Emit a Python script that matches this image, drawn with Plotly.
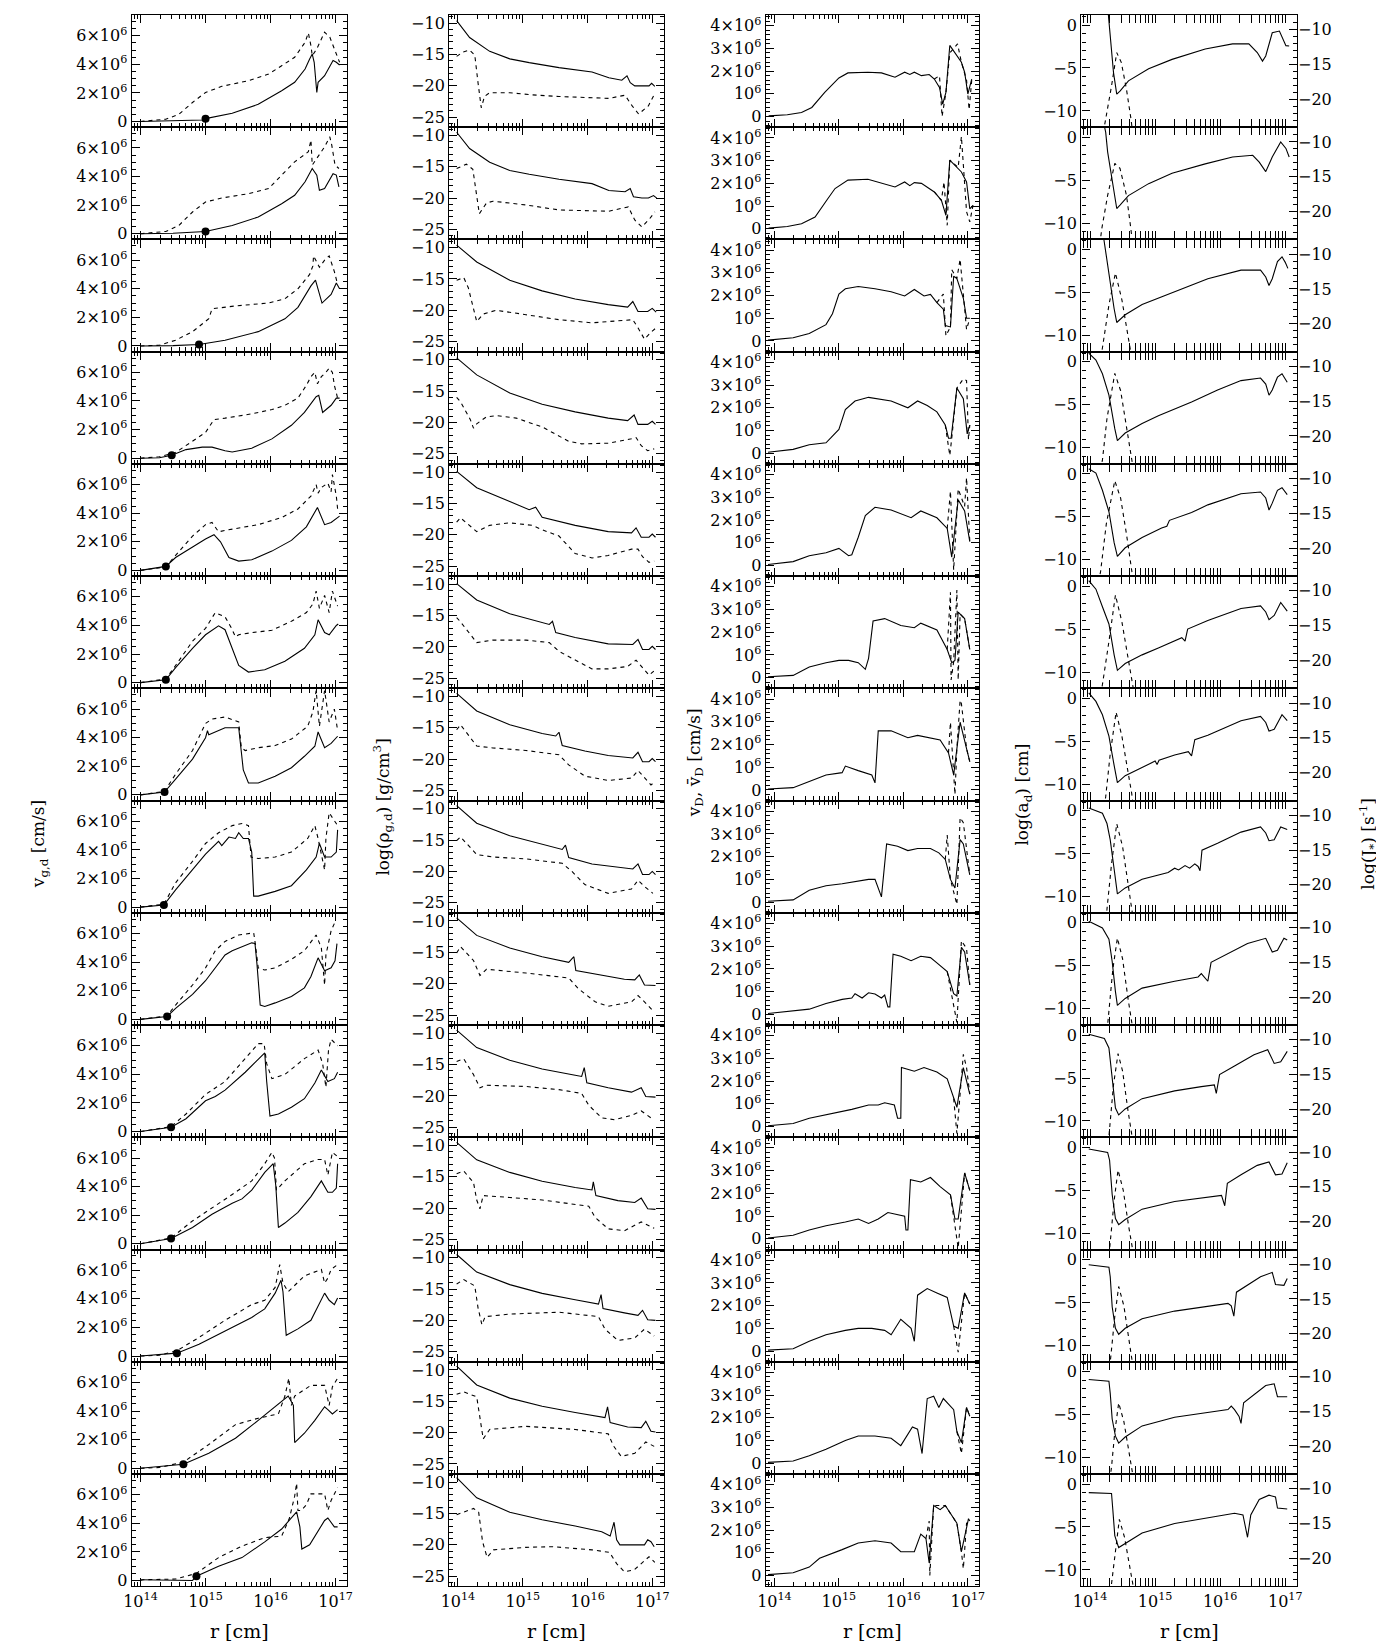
import plotly.graph_objects as go

# Each panel row (top to bottom) holds (log10 r [cm], value) pairs.
# Column 1: gas (solid) and dust (dashed) velocity, in units of 1e6 cm/s
V_GAS = [
    [(14.0,0.0),(14.5,0.03),(14.95,0.1),(15.0,0.2),(15.41,0.58),(15.81,1.2),(16.17,2.15),(16.37,2.74),(16.53,3.67),(16.60,4.37),(16.64,4.72),(16.67,4.14),(16.71,2.03),(16.73,2.74),(16.83,3.2),(16.96,4.26),(17.01,4.14),(17.06,3.95)],
    [(14.0,0.0),(14.5,0.03),(15.0,0.16),(15.41,0.58),(15.81,1.17),(16.17,2.1),(16.37,2.69),(16.53,3.63),(16.64,4.56),(16.71,4.1),(16.75,3.04),(16.83,3.16),(16.96,4.2),(17.01,4.1),(17.05,3.27)],
    [(14.0,0.0),(14.5,0.02),(14.90,0.1),(15.30,0.4),(15.81,1.0),(16.22,1.9),(16.42,2.7),(16.62,4.2),(16.69,4.6),(16.79,3.0),(16.93,3.6),(17.01,4.4),(17.06,4.0)],
    [(14.0,0.0),(14.29,0.03),(14.48,0.2),(14.70,0.6),(14.95,0.77),(15.10,0.77),(15.30,0.52),(15.41,0.43),(15.71,0.7),(16.02,1.35),(16.32,2.3),(16.52,3.2),(16.70,4.3),(16.74,4.4),(16.80,3.2),(16.93,3.7),(17.01,4.2),(17.06,4.2)],
    [(14.0,0.0),(14.39,0.28),(14.54,0.9),(14.80,1.66),(15.0,2.2),(15.13,2.5),(15.23,2.0),(15.36,0.9),(15.51,0.65),(15.71,0.74),(16.02,1.35),(16.32,2.1),(16.55,3.05),(16.72,4.4),(16.83,3.2),(16.93,3.35),(17.03,3.66),(17.06,3.8)],
    [(14.0,0.0),(14.39,0.2),(14.54,1.05),(14.80,2.4),(15.0,3.35),(15.20,3.97),(15.30,3.7),(15.41,2.4),(15.51,1.2),(15.66,0.74),(15.91,0.9),(16.22,1.5),(16.52,2.4),(16.68,3.35),(16.73,4.4),(16.83,3.5),(16.90,3.35),(17.01,4.0),(17.04,4.1)],
    [(14.0,0.0),(14.37,0.2),(14.54,1.1),(14.80,2.5),(15.0,4.0),(15.03,4.5),(15.05,4.2),(15.20,4.5),(15.30,4.7),(15.51,4.7),(15.53,3.9),(15.58,1.75),(15.66,0.83),(15.81,0.83),(16.07,1.3),(16.32,1.9),(16.52,2.7),(16.68,3.4),(16.73,4.4),(16.83,3.3),(16.93,3.6),(17.03,4.1)],
    [(14.0,0.0),(14.36,0.15),(14.54,1.2),(14.80,2.6),(15.0,3.7),(15.20,4.6),(15.25,4.3),(15.36,4.9),(15.46,4.8),(15.51,5.2),(15.58,4.8),(15.66,4.8),(15.71,3.85),(15.74,0.77),(15.81,0.77),(16.07,1.1),(16.32,1.5),(16.55,2.6),(16.70,3.5),(16.75,4.45),(16.83,3.5),(16.93,3.5),(17.01,3.85),(17.03,5.4)],
    [(14.0,0.0),(14.41,0.2),(14.54,0.77),(14.80,1.75),(15.0,2.7),(15.15,3.6),(15.30,4.5),(15.41,4.8),(15.56,5.1),(15.71,5.35),(15.76,5.3),(15.79,3.9),(15.84,1.0),(15.91,0.9),(16.07,1.15),(16.32,1.6),(16.52,2.2),(16.62,3.0),(16.73,4.3),(16.83,3.4),(16.93,3.6),(16.99,4.1),(17.02,5.3)],
    [(14.0,0.0),(14.47,0.3),(14.70,0.9),(15.0,2.15),(15.15,2.45),(15.30,2.9),(15.61,4.15),(15.81,5.1),(15.91,5.5),(15.94,3.5),(15.99,1.08),(16.12,1.23),(16.32,1.7),(16.52,2.3),(16.68,3.4),(16.78,4.3),(16.88,3.5),(16.98,3.7),(17.03,4.15)],
    [(14.0,0.0),(14.47,0.37),(14.80,1.14),(15.10,2.06),(15.41,2.83),(15.56,3.14),(15.71,3.75),(15.91,5.0),(16.04,5.6),(16.08,4.06),(16.12,1.14),(16.22,1.45),(16.42,2.2),(16.62,3.3),(16.78,4.4),(16.88,3.6),(16.95,3.6),(17.01,3.9),(17.03,5.6)],
    [(14.0,0.0),(14.56,0.2),(14.90,0.83),(15.30,1.75),(15.71,2.7),(15.91,3.3),(16.07,4.4),(16.16,5.3),(16.19,4.5),(16.24,1.45),(16.42,1.9),(16.62,2.5),(16.83,4.4),(16.90,3.9),(16.98,3.6),(17.03,4.06)],
    [(14.0,0.0),(14.66,0.28),(15.05,1.05),(15.46,2.1),(15.81,3.35),(16.07,4.3),(16.27,5.05),(16.29,4.9),(16.35,4.4),(16.37,1.8),(16.52,2.45),(16.68,3.35),(16.83,4.3),(16.88,4.1),(16.95,3.8),(17.03,4.1)],
    [(14.0,0.05),(14.54,0.05),(14.80,0.0),(14.86,0.3),(15.20,1.0),(15.56,1.6),(15.91,2.7),(16.17,3.6),(16.32,4.4),(16.40,4.8),(16.45,3.75),(16.48,2.2),(16.60,2.5),(16.68,3.1),(16.83,4.2),(16.88,4.37),(16.98,3.75),(17.03,3.75)],
]
V_DUST = [
    [(14.0,0.0),(14.39,0.16),(14.59,0.5),(14.80,1.33),(15.0,2.03),(15.25,2.46),(15.66,2.85),(15.97,3.32),(16.17,3.9),(16.37,4.49),(16.53,5.54),(16.58,6.2),(16.62,5.3),(16.64,4.6),(16.71,5.08),(16.83,6.25),(16.91,5.9),(16.96,5.3),(17.01,4.6),(17.06,4.14)],
    [(14.0,0.0),(14.39,0.16),(14.59,0.58),(14.80,1.52),(15.0,2.22),(15.25,2.5),(15.66,2.8),(15.97,3.16),(16.17,4.1),(16.37,5.03),(16.58,5.73),(16.62,6.55),(16.64,4.8),(16.71,5.26),(16.83,6.08),(16.91,6.78),(16.94,6.2),(16.99,4.8),(17.05,4.56)],
    [(14.0,0.0),(14.29,0.05),(14.54,0.4),(14.80,1.0),(15.05,1.9),(15.10,2.6),(15.46,2.8),(15.96,3.0),(16.22,3.3),(16.42,4.0),(16.60,5.0),(16.65,5.6),(16.66,6.3),(16.75,5.5),(16.83,6.0),(16.90,6.3),(16.98,5.2),(17.03,4.3)],
    [(14.0,0.0),(14.29,0.1),(14.54,0.4),(14.80,1.2),(15.0,1.8),(15.13,2.7),(15.30,2.8),(15.71,3.1),(16.02,3.4),(16.22,3.7),(16.42,4.2),(16.55,5.1),(16.62,5.7),(16.68,6.0),(16.72,5.2),(16.78,5.7),(16.85,6.0),(16.90,6.3),(16.95,6.0),(16.98,5.1),(17.03,4.2)],
    [(14.0,0.0),(14.39,0.25),(14.54,1.05),(14.80,2.4),(15.0,3.2),(15.10,3.35),(15.20,2.7),(15.30,2.8),(15.81,3.2),(16.17,3.7),(16.42,4.3),(16.62,5.2),(16.70,6.0),(16.73,5.4),(16.78,5.8),(16.88,6.1),(16.93,5.5),(16.95,6.7),(17.01,5.2),(17.03,4.3)],
    [(14.0,0.0),(14.39,0.25),(14.54,1.2),(14.80,2.9),(15.0,3.8),(15.15,4.9),(15.30,4.6),(15.40,3.8),(15.46,3.2),(15.51,3.35),(15.71,3.5),(16.02,3.66),(16.32,4.3),(16.55,4.9),(16.65,5.5),(16.70,6.4),(16.75,5.2),(16.83,6.1),(16.90,4.9),(16.95,6.4),(17.03,5.35)],
    [(14.0,0.0),(14.37,0.25),(14.54,1.45),(14.80,3.1),(15.0,5.0),(15.10,5.3),(15.30,5.45),(15.51,5.1),(15.55,3.3),(15.61,3.1),(15.81,3.3),(16.07,3.45),(16.32,3.9),(16.57,4.8),(16.65,5.8),(16.70,7.3),(16.75,4.8),(16.83,7.3),(16.90,5.1),(16.98,6.0),(17.03,4.5)],
    [(14.0,0.0),(14.36,0.2),(14.54,1.7),(14.80,3.2),(15.0,4.45),(15.20,5.2),(15.41,5.7),(15.56,5.85),(15.66,5.7),(15.70,3.5),(15.81,3.4),(16.07,3.5),(16.32,3.85),(16.57,4.8),(16.68,5.7),(16.73,4.8),(16.83,2.6),(16.85,4.8),(16.90,6.6),(16.98,6.0),(17.03,5.7)],
    [(14.0,0.0),(14.41,0.25),(14.54,1.0),(14.80,2.4),(15.0,3.6),(15.15,4.8),(15.30,5.45),(15.51,5.9),(15.74,6.05),(15.76,5.45),(15.81,3.6),(15.91,3.45),(16.07,3.6),(16.32,4.2),(16.52,4.8),(16.70,5.9),(16.78,5.0),(16.83,2.4),(16.85,4.5),(16.93,6.2),(16.98,6.7),(17.03,6.7)],
    [(14.0,0.0),(14.47,0.35),(14.70,1.23),(15.0,2.6),(15.30,3.5),(15.61,5.1),(15.81,6.15),(15.90,6.15),(15.94,4.75),(16.02,3.7),(16.22,4.0),(16.52,5.1),(16.73,5.7),(16.80,4.75),(16.85,3.1),(16.89,5.7),(16.93,6.45),(17.03,6.0)],
    [(14.0,0.0),(14.47,0.4),(14.80,1.6),(15.10,2.5),(15.41,3.45),(15.71,4.4),(15.91,5.6),(16.02,6.4),(16.06,6.0),(16.09,3.75),(16.22,4.4),(16.52,5.6),(16.73,5.9),(16.83,5.9),(16.88,4.8),(16.95,6.4),(17.03,6.1)],
    [(14.0,0.0),(14.29,0.05),(14.56,0.37),(14.90,1.3),(15.30,2.5),(15.71,3.6),(15.91,3.9),(16.07,4.8),(16.14,6.4),(16.19,5.1),(16.27,4.5),(16.52,5.6),(16.78,6.06),(16.83,5.1),(16.88,5.45),(16.93,6.06),(17.03,6.4)],
    [(14.0,0.0),(14.29,0.05),(14.66,0.43),(15.05,1.66),(15.46,3.05),(15.81,3.5),(16.12,3.8),(16.22,5.05),(16.28,6.3),(16.32,4.4),(16.37,5.05),(16.62,5.8),(16.83,5.8),(16.90,4.4),(16.95,5.7),(17.03,6.3)],
    [(14.0,0.0),(14.04,0.05),(14.54,0.1),(14.86,0.5),(15.20,1.6),(15.56,2.4),(15.91,3.0),(16.17,3.1),(16.29,4.37),(16.37,5.9),(16.40,6.8),(16.42,4.9),(16.47,4.9),(16.55,5.3),(16.62,6.06),(16.83,6.06),(16.88,4.9),(16.93,5.6),(17.03,6.5)],
]
DOT_LOGR = [15.0, 15.0, 14.90, 14.48, 14.39, 14.39, 14.37, 14.36, 14.41, 14.47, 14.47, 14.56, 14.66, 14.86]
DOT_V = [0.2, 0.15, 0.1, 0.2, 0.28, 0.2, 0.2, 0.15, 0.2, 0.3, 0.37, 0.2, 0.28, 0.3]

# Column 2: log gas (solid) and dust (dashed) density [g/cm^3]
RHO_GAS = [
    [(13.98,-9.6),(14.18,-12.3),(14.49,-14.5),(14.8,-15.7),(15.1,-16.3),(15.56,-17.1),(16.07,-17.8),(16.33,-18.7),(16.53,-19.1),(16.61,-18.4),(16.66,-19.5),(16.73,-20.0),(16.95,-20.0),(16.99,-19.6),(17.04,-20.1)],
    [(13.98,-9.5),(14.18,-12.1),(14.49,-14.3),(14.8,-15.6),(15.1,-16.2),(15.56,-17.0),(16.07,-17.7),(16.33,-18.8),(16.58,-19.0),(16.66,-18.5),(16.71,-19.8),(16.84,-20.0),(16.94,-20.0),(17.02,-19.6),(17.07,-20.0)],
    [(13.98,-9.6),(14.29,-12.3),(14.80,-15.2),(15.30,-16.9),(15.81,-18.2),(16.32,-19.1),(16.62,-19.5),(16.70,-18.6),(16.78,-20.2),(16.93,-20.2),(17.0,-19.7),(17.06,-20.3)],
    [(13.98,-9.7),(14.29,-12.4),(14.80,-15.3),(15.30,-17.1),(15.81,-18.3),(16.32,-19.3),(16.62,-19.7),(16.72,-18.8),(16.78,-20.3),(16.93,-20.3),(17.0,-19.8),(17.05,-20.3)],
    [(13.98,-9.9),(14.29,-12.5),(14.80,-14.7),(15.10,-16.0),(15.20,-15.6),(15.30,-17.2),(15.81,-18.5),(16.32,-19.5),(16.68,-19.7),(16.75,-18.9),(16.83,-20.4),(16.95,-20.4),(17.0,-19.9),(17.05,-20.4)],
    [(13.98,-9.9),(14.29,-12.5),(14.80,-14.7),(15.30,-16.0),(15.41,-16.4),(15.46,-15.9),(15.51,-17.7),(15.81,-18.5),(16.32,-19.5),(16.70,-19.6),(16.78,-18.8),(16.85,-20.4),(16.95,-20.4),(17.0,-19.9),(17.05,-20.4)],
    [(13.98,-9.5),(14.29,-12.3),(14.80,-14.5),(15.30,-15.9),(15.51,-16.3),(15.56,-15.7),(15.61,-17.8),(15.96,-18.7),(16.32,-19.4),(16.70,-19.8),(16.78,-18.9),(16.85,-20.4),(16.95,-20.4),(17.0,-19.9),(17.05,-20.4)],
    [(13.98,-9.5),(14.29,-12.3),(14.80,-14.3),(15.30,-15.7),(15.61,-16.5),(15.66,-15.8),(15.71,-17.8),(16.07,-18.8),(16.42,-19.3),(16.70,-19.6),(16.78,-18.8),(16.85,-20.5),(16.95,-20.5),(17.0,-20.0),(17.05,-20.5)],
    [(13.98,-9.5),(14.29,-12.3),(14.80,-14.3),(15.30,-15.7),(15.71,-16.6),(15.79,-15.7),(15.82,-17.9),(16.17,-18.6),(16.57,-19.3),(16.73,-19.4),(16.80,-18.6),(16.88,-20.2),(16.98,-20.2),(17.05,-20.3)],
    [(13.98,-9.5),(14.29,-12.3),(14.80,-14.3),(15.30,-15.7),(15.81,-16.7),(15.91,-16.9),(15.95,-15.5),(15.99,-17.9),(16.32,-18.7),(16.68,-19.4),(16.83,-18.7),(16.90,-20.1),(17.05,-20.2)],
    [(13.98,-9.5),(14.29,-12.3),(14.80,-14.3),(15.30,-15.7),(15.81,-16.7),(16.07,-17.1),(16.09,-15.8),(16.13,-18.0),(16.47,-18.8),(16.73,-19.1),(16.83,-18.4),(16.93,-20.1),(17.05,-20.2)],
    [(13.98,-9.5),(14.29,-12.3),(14.80,-14.3),(15.30,-15.7),(15.81,-16.7),(16.17,-17.4),(16.21,-15.9),(16.24,-18.1),(16.57,-18.8),(16.78,-19.2),(16.85,-18.4),(16.93,-19.9),(17.05,-20.0)],
    [(13.98,-9.4),(14.29,-12.4),(14.80,-14.5),(15.30,-15.8),(15.81,-16.8),(16.27,-17.6),(16.31,-15.9),(16.35,-18.4),(16.62,-19.1),(16.83,-19.2),(16.90,-18.2),(16.98,-19.8),(17.05,-19.9)],
    [(13.98,-9.3),(14.29,-12.5),(14.80,-14.8),(15.30,-16.0),(15.81,-17.0),(16.22,-17.9),(16.35,-18.6),(16.41,-16.4),(16.45,-19.2),(16.50,-20.0),(16.88,-20.0),(16.93,-19.2),(16.98,-19.5),(17.03,-20.3)],
]
RHO_DUST = [
    [(13.98,-15.3),(14.08,-14.6),(14.18,-14.3),(14.26,-15.1),(14.31,-19.5),(14.36,-23.5),(14.41,-21.7),(14.49,-21.1),(14.8,-21.1),(15.1,-21.4),(15.56,-21.7),(16.07,-21.9),(16.33,-22.0),(16.58,-21.5),(16.69,-23.2),(16.79,-24.5),(16.94,-23.2),(17.02,-21.6)],
    [(13.98,-15.3),(14.13,-14.6),(14.23,-15.4),(14.28,-18.7),(14.33,-22.5),(14.44,-20.8),(14.54,-20.5),(15.05,-21.1),(15.56,-21.9),(16.33,-22.1),(16.63,-21.4),(16.73,-23.5),(16.84,-24.6),(16.96,-23.3),(17.04,-22.2)],
    [(13.98,-15.2),(14.09,-14.8),(14.16,-16.4),(14.24,-19.8),(14.29,-21.8),(14.39,-20.6),(14.59,-20.0),(15.05,-20.7),(15.56,-21.5),(16.07,-22.0),(16.62,-21.6),(16.70,-21.5),(16.78,-22.8),(16.88,-24.6),(16.98,-23.5),(17.06,-22.8)],
    [(13.98,-16.0),(14.04,-16.7),(14.19,-19.5),(14.24,-20.9),(14.29,-20.2),(14.44,-19.1),(14.59,-18.9),(14.90,-19.3),(15.30,-20.7),(15.71,-23.0),(15.91,-23.4),(16.32,-23.3),(16.68,-22.6),(16.75,-22.4),(16.83,-23.7),(16.93,-24.5),(17.03,-24.2)],
    [(13.98,-18.0),(14.04,-17.3),(14.29,-19.5),(14.49,-18.5),(14.80,-18.1),(15.15,-18.5),(15.30,-19.2),(15.56,-20.2),(15.81,-23.0),(16.07,-23.7),(16.32,-23.3),(16.68,-22.3),(16.78,-22.3),(16.85,-23.5),(16.95,-24.4),(17.03,-24.2)],
    [(13.98,-15.3),(14.04,-16.0),(14.29,-19.3),(14.54,-18.9),(15.05,-18.9),(15.41,-19.3),(15.56,-20.7),(15.81,-22.1),(16.07,-23.5),(16.32,-23.5),(16.62,-23.1),(16.75,-22.1),(16.83,-23.1),(16.95,-24.5),(17.03,-23.8)],
    [(13.98,-15.3),(14.04,-14.5),(14.29,-17.9),(14.54,-18.2),(15.05,-18.6),(15.56,-19.3),(15.71,-20.9),(15.96,-22.7),(16.32,-23.4),(16.68,-23.0),(16.78,-21.8),(16.88,-23.0),(16.98,-24.1),(17.03,-23.7)],
    [(13.98,-15.1),(14.04,-14.5),(14.29,-17.3),(14.54,-17.7),(15.05,-18.0),(15.61,-18.7),(15.76,-20.0),(15.96,-22.1),(16.32,-23.5),(16.68,-22.8),(16.78,-21.4),(16.88,-22.4),(17.01,-23.5)],
    [(13.98,-15.1),(14.04,-14.1),(14.24,-16.3),(14.34,-18.7),(14.44,-17.7),(15.05,-18.3),(15.71,-19.1),(15.86,-20.8),(16.12,-22.9),(16.32,-23.6),(16.68,-22.9),(16.78,-21.9),(16.88,-22.9),(17.01,-24.3)],
    [(13.98,-14.5),(14.09,-14.1),(14.24,-16.6),(14.34,-18.7),(14.44,-18.3),(15.05,-18.5),(15.56,-19.0),(15.91,-19.6),(16.02,-21.5),(16.22,-23.5),(16.42,-23.8),(16.68,-23.1),(16.83,-22.4),(16.98,-23.5)],
    [(13.98,-14.5),(14.09,-14.1),(14.24,-15.9),(14.29,-18.7),(14.34,-20.1),(14.39,-18.0),(14.80,-18.3),(15.30,-18.7),(16.02,-19.7),(16.12,-21.5),(16.32,-23.3),(16.57,-23.6),(16.83,-22.2),(17.03,-23.2)],
    [(13.98,-14.2),(14.09,-13.5),(14.26,-14.5),(14.31,-18.0),(14.37,-20.7),(14.42,-19.4),(14.80,-19.0),(15.56,-18.7),(16.17,-19.4),(16.27,-21.4),(16.47,-23.2),(16.73,-22.8),(16.88,-21.4),(17.03,-22.5)],
    [(13.98,-13.9),(14.09,-13.5),(14.29,-14.3),(14.34,-18.0),(14.39,-21.0),(14.49,-19.5),(15.05,-19.0),(15.81,-19.5),(16.32,-20.2),(16.40,-22.1),(16.52,-23.8),(16.73,-23.3),(16.90,-21.5),(17.03,-22.2)],
    [(13.98,-15.2),(14.24,-14.2),(14.32,-14.8),(14.38,-19.5),(14.45,-22.0),(14.55,-20.8),(15.05,-20.4),(15.46,-20.3),(16.07,-20.8),(16.34,-21.2),(16.45,-23.0),(16.57,-24.3),(16.72,-24.0),(16.95,-21.9),(17.04,-22.8)],
]

# Column 3: drift velocity v_D (solid) and mean drift velocity (dashed), in units of 1e6 cm/s
VD = [
    [(13.91,0.03),(14.2,0.08),(14.42,0.18),(14.58,0.4),(14.78,1.06),(14.89,1.36),(15.0,1.7),(15.14,1.92),(15.45,1.95),(15.66,1.92),(15.87,1.73),(16.02,1.95),(16.10,1.85),(16.17,1.95),(16.28,1.8),(16.40,1.85),(16.48,1.65),(16.56,1.28),(16.61,0.55),(16.66,1.06),(16.72,3.13),(16.90,2.39),(16.95,1.95),(17.0,0.99),(17.06,1.65)],
    [(13.91,0.03),(14.2,0.1),(14.42,0.22),(14.63,0.52),(14.83,1.33),(14.94,1.77),(15.14,2.14),(15.45,2.18),(15.87,1.84),(16.02,2.06),(16.10,1.9),(16.17,2.03),(16.28,2.0),(16.48,1.62),(16.59,1.25),(16.66,0.59),(16.72,3.02),(16.90,2.5),(16.98,2.06),(17.03,0.88),(17.08,1.03)],
    [(13.90,0.04),(14.29,0.14),(14.54,0.33),(14.80,0.72),(14.90,1.2),(15.0,2.07),(15.10,2.3),(15.30,2.4),(15.56,2.3),(15.81,2.17),(16.02,1.98),(16.17,2.27),(16.32,1.98),(16.42,2.05),(16.52,1.69),(16.62,1.4),(16.65,0.68),(16.73,0.62),(16.78,2.85),(16.83,2.75),(16.93,1.88),(16.98,1.0),(17.03,1.0)],
    [(13.90,0.04),(14.29,0.17),(14.54,0.37),(14.80,0.46),(14.87,0.66),(15.0,1.05),(15.10,1.92),(15.25,2.3),(15.46,2.46),(15.81,2.3),(16.07,2.0),(16.22,2.3),(16.37,2.1),(16.52,1.82),(16.65,1.24),(16.70,0.66),(16.74,0.66),(16.83,2.87),(16.93,2.4),(16.99,0.85),(17.03,1.24)],
    [(13.90,0.04),(14.29,0.17),(14.54,0.43),(14.80,0.56),(15.0,0.75),(15.15,0.43),(15.20,0.47),(15.30,1.24),(15.41,2.2),(15.56,2.56),(15.81,2.44),(16.12,2.1),(16.27,2.4),(16.52,2.1),(16.68,1.63),(16.75,0.37),(16.85,2.89),(16.95,2.4),(17.03,1.05)],
    [(13.90,0.04),(14.29,0.1),(14.54,0.47),(14.80,0.66),(15.0,0.76),(15.15,0.76),(15.30,0.66),(15.41,0.37),(15.46,0.85),(15.53,2.5),(15.71,2.6),(15.96,2.3),(16.17,2.2),(16.27,2.4),(16.52,2.1),(16.68,1.24),(16.75,0.66),(16.80,0.76),(16.85,2.89),(16.95,2.6),(17.03,1.24)],
    [(13.90,0.04),(14.29,0.1),(14.54,0.37),(14.80,0.66),(15.05,0.76),(15.10,1.05),(15.30,0.85),(15.51,0.66),(15.56,0.31),(15.61,2.6),(15.81,2.6),(16.07,2.3),(16.22,2.4),(16.42,2.3),(16.57,2.2),(16.70,1.63),(16.78,0.66),(16.83,1.82),(16.88,2.98),(16.98,1.82),(17.03,1.24)],
    [(13.90,0.04),(14.29,0.1),(14.54,0.52),(14.80,0.72),(15.05,0.81),(15.30,0.91),(15.46,1.0),(15.56,1.0),(15.61,0.62),(15.66,0.23),(15.74,2.56),(15.91,2.46),(16.07,2.27),(16.22,2.36),(16.42,2.36),(16.55,2.17),(16.65,1.88),(16.73,1.0),(16.80,0.62),(16.88,2.75),(16.93,2.56),(17.03,1.2)],
    [(13.90,0.04),(14.29,0.14),(14.54,0.23),(14.80,0.48),(15.05,0.66),(15.20,0.72),(15.25,0.91),(15.36,0.72),(15.46,0.95),(15.56,0.9),(15.66,0.72),(15.71,0.85),(15.76,0.33),(15.79,0.33),(15.84,2.65),(15.96,2.56),(16.12,2.36),(16.27,2.56),(16.42,2.5),(16.52,2.27),(16.68,1.88),(16.78,0.91),(16.83,0.81),(16.90,2.95),(16.95,2.75),(17.03,1.3)],
    [(13.90,0.04),(14.29,0.14),(14.54,0.37),(14.80,0.52),(15.0,0.66),(15.20,0.76),(15.46,0.95),(15.61,0.95),(15.71,1.05),(15.86,0.95),(15.91,0.37),(15.96,0.37),(15.97,2.6),(16.17,2.44),(16.32,2.6),(16.52,2.4),(16.68,2.1),(16.78,1.24),(16.83,0.85),(16.93,2.6),(17.03,1.43)],
    [(13.90,0.04),(14.29,0.16),(14.54,0.39),(14.80,0.58),(15.10,0.74),(15.30,0.87),(15.46,0.68),(15.61,0.87),(15.76,1.16),(15.91,1.07),(16.02,1.0),(16.04,0.39),(16.07,0.39),(16.11,2.6),(16.27,2.5),(16.42,2.7),(16.57,2.3),(16.73,1.94),(16.80,0.87),(16.85,0.87),(16.95,2.9),(17.03,2.13)],
    [(13.90,0.04),(14.29,0.1),(14.54,0.43),(14.80,0.72),(15.10,0.91),(15.30,1.0),(15.51,1.0),(15.71,0.91),(15.81,0.72),(15.96,1.4),(16.12,1.0),(16.17,0.43),(16.22,2.46),(16.37,2.75),(16.52,2.56),(16.68,2.36),(16.78,1.1),(16.85,1.0),(16.95,2.56),(17.03,2.07)],
    [(13.90,0.04),(14.29,0.1),(14.54,0.33),(14.80,0.62),(15.10,1.0),(15.30,1.2),(15.56,1.2),(15.81,1.1),(15.96,0.78),(16.14,1.6),(16.22,1.5),(16.29,0.43),(16.37,2.85),(16.47,2.95),(16.55,2.46),(16.62,2.85),(16.78,2.36),(16.83,1.4),(16.90,0.91),(16.98,2.46),(17.03,2.07)],
    [(13.90,0.04),(14.29,0.12),(14.54,0.37),(14.70,0.76),(15.05,1.14),(15.30,1.43),(15.56,1.53),(15.81,1.43),(15.96,1.05),(16.17,1.05),(16.27,1.82),(16.35,1.63),(16.40,0.56),(16.47,3.08),(16.57,2.9),(16.65,3.08),(16.83,2.3),(16.90,1.05),(17.01,2.5),(17.03,2.4)],
]
VD_MEAN = [
    [(16.48,1.65),(16.56,1.8),(16.60,0.0),(16.66,1.06),(16.72,2.8),(16.84,3.2),(16.90,2.39),(16.98,1.6),(17.02,0.3),(17.06,1.6)],
    [(16.48,1.62),(16.59,1.25),(16.63,2.06),(16.68,0.15),(16.72,3.02),(16.85,2.7),(16.90,4.06),(16.94,2.2),(16.98,0.75),(17.03,0.3),(17.08,1.03)],
    [(16.52,1.69),(16.62,2.07),(16.66,0.23),(16.73,0.62),(16.75,3.14),(16.83,2.75),(16.88,3.6),(16.93,1.88),(16.98,0.5),(17.03,1.0)],
    [(16.65,1.24),(16.72,-0.1),(16.75,0.66),(16.83,2.87),(16.93,3.27),(16.98,3.2),(17.01,0.6),(17.03,1.24)],
    [(16.68,1.63),(16.73,3.27),(16.78,-0.2),(16.80,1.0),(16.85,3.37),(16.95,2.6),(16.98,3.86),(17.03,1.05)],
    [(16.68,1.24),(16.73,3.76),(16.74,-0.1),(16.78,0.7),(16.83,3.86),(16.85,-0.1),(16.88,2.8),(16.95,2.6),(17.03,1.24)],
    [(16.70,1.63),(16.73,2.98),(16.80,-0.2),(16.83,1.82),(16.88,3.95),(16.90,3.8),(16.98,1.82),(17.03,1.24)],
    [(16.65,1.88),(16.68,2.95),(16.73,1.0),(16.83,-0.1),(16.88,3.72),(16.93,3.5),(17.03,1.2)],
    [(16.68,1.88),(16.83,-0.35),(16.90,3.24),(16.98,2.9),(17.03,1.3)],
    [(16.78,1.24),(16.83,-0.3),(16.93,3.18),(16.98,2.6),(17.03,1.43)],
    [(16.73,1.94),(16.85,-0.4),(16.95,2.9),(17.03,2.13)],
    [(16.78,1.1),(16.85,-0.05),(16.95,2.56),(17.03,2.07)],
    [(16.83,1.4),(16.90,0.43),(16.98,2.46),(17.03,2.07)],
    [(16.35,1.63),(16.40,2.4),(16.41,0.0),(16.47,3.08),(16.65,3.08),(16.83,2.3),(16.90,1.05),(16.93,0.3),(16.98,2.3),(17.03,2.4)],
]

# Column 4: log grain radius a_d [cm] (solid, left axis) and log nucleation rate J* [s^-1] (dashed, right axis)
A_DUST = [
    [(14.28,1.3),(14.32,-2.0),(14.36,-5.5),(14.41,-8.05),(14.46,-7.7),(14.59,-6.5),(14.9,-5.1),(15.26,-4.0),(15.77,-2.8),(16.19,-2.2),(16.44,-2.2),(16.57,-3.2),(16.65,-4.2),(16.70,-3.6),(16.80,-0.9),(16.91,-0.7),(16.96,-1.6),(17.01,-2.4),(17.06,-2.45)],
    [(14.22,1.3),(14.24,0.6),(14.27,-1.7),(14.33,-4.4),(14.41,-8.3),(14.46,-7.9),(14.59,-6.8),(14.9,-5.4),(15.26,-4.2),(15.77,-3.1),(16.19,-2.3),(16.5,-2.1),(16.6,-2.9),(16.70,-4.0),(16.80,-2.3),(16.93,-0.55),(17.01,-1.3),(17.06,-2.3)],
    [(14.21,1.3),(14.29,-2.9),(14.37,-6.9),(14.41,-8.5),(14.54,-7.6),(14.80,-6.4),(15.30,-4.9),(15.81,-3.4),(16.32,-2.4),(16.62,-2.4),(16.70,-3.2),(16.75,-4.2),(16.80,-3.4),(16.88,-1.4),(16.95,-0.85),(17.0,-1.5),(17.04,-2.2)],
    [(13.98,1.0),(14.09,0.2),(14.19,-1.4),(14.29,-3.9),(14.38,-7.8),(14.42,-9.2),(14.54,-8.3),(14.80,-7.2),(15.05,-6.3),(15.56,-4.7),(15.96,-3.3),(16.32,-2.2),(16.62,-1.9),(16.70,-2.6),(16.75,-3.9),(16.80,-3.3),(16.88,-1.8),(16.95,-1.4),(17.03,-2.4)],
    [(13.98,0.6),(14.09,0.1),(14.19,-1.9),(14.29,-4.4),(14.37,-8.0),(14.42,-9.6),(14.54,-8.6),(14.80,-7.4),(15.10,-6.3),(15.18,-6.1),(15.22,-5.4),(15.56,-4.5),(15.81,-3.6),(16.32,-2.3),(16.62,-2.1),(16.70,-2.8),(16.75,-4.2),(16.80,-3.4),(16.88,-1.9),(16.95,-1.6),(17.03,-2.4)],
    [(13.98,0.65),(14.09,-0.35),(14.19,-2.4),(14.29,-4.4),(14.37,-8.0),(14.42,-9.8),(14.54,-9.0),(14.80,-8.0),(15.05,-7.2),(15.30,-6.4),(15.41,-6.0),(15.46,-6.4),(15.50,-5.0),(15.81,-4.0),(16.32,-2.6),(16.62,-2.3),(16.70,-3.0),(16.75,-3.9),(16.83,-3.4),(16.93,-1.9),(17.03,-2.9)],
    [(13.98,0.65),(14.09,-0.35),(14.19,-1.9),(14.29,-4.4),(14.37,-7.8),(14.42,-9.8),(14.54,-9.0),(14.80,-8.0),(15.0,-7.3),(15.03,-7.7),(15.06,-7.2),(15.30,-6.6),(15.51,-6.2),(15.56,-6.7),(15.61,-4.8),(15.81,-4.3),(16.32,-2.6),(16.62,-2.1),(16.70,-2.8),(16.75,-3.8),(16.83,-3.6),(16.95,-1.9),(17.03,-2.6)],
    [(13.98,0.3),(14.19,-0.3),(14.26,-1.5),(14.31,-3.4),(14.37,-6.8),(14.42,-9.7),(14.54,-9.0),(14.80,-8.0),(15.20,-7.2),(15.30,-6.7),(15.36,-6.9),(15.46,-6.4),(15.53,-6.7),(15.61,-6.2),(15.66,-6.5),(15.69,-7.0),(15.72,-4.6),(15.96,-3.8),(16.32,-2.5),(16.62,-1.9),(16.70,-2.6),(16.75,-3.5),(16.83,-3.4),(16.93,-1.9),(17.03,-2.2)],
    [(13.98,0.2),(14.19,-0.6),(14.29,-1.9),(14.34,-4.5),(14.39,-8.0),(14.42,-9.6),(14.54,-8.8),(14.80,-7.6),(15.30,-6.8),(15.66,-6.3),(15.71,-5.9),(15.76,-6.4),(15.81,-6.8),(15.86,-4.6),(16.07,-3.8),(16.42,-2.4),(16.70,-1.8),(16.75,-2.6),(16.80,-3.4),(16.88,-3.2),(16.98,-1.8),(17.03,-2.0)],
    [(13.98,0.1),(14.22,-0.4),(14.29,-1.5),(14.34,-5.0),(14.39,-8.5),(14.44,-9.3),(14.54,-8.6),(14.80,-7.4),(15.30,-6.5),(15.71,-6.0),(15.91,-5.8),(15.94,-6.8),(15.99,-4.6),(16.22,-3.6),(16.52,-2.3),(16.73,-1.7),(16.78,-2.6),(16.83,-3.3),(16.93,-3.1),(17.03,-1.9)],
    [(13.98,-0.2),(14.27,-0.6),(14.30,-1.5),(14.34,-5.5),(14.39,-8.3),(14.44,-9.0),(14.54,-8.4),(14.80,-7.2),(15.30,-6.3),(15.81,-5.8),(16.02,-5.6),(16.07,-6.8),(16.11,-4.2),(16.32,-3.2),(16.57,-2.1),(16.75,-1.7),(16.80,-2.5),(16.85,-3.2),(16.95,-3.1),(17.03,-1.8)],
    [(13.98,-0.6),(14.29,-0.9),(14.31,-2.0),(14.34,-5.5),(14.39,-8.0),(14.44,-8.7),(14.54,-8.0),(14.80,-6.9),(15.30,-6.0),(15.81,-5.4),(16.12,-5.1),(16.17,-5.4),(16.21,-6.6),(16.25,-3.8),(16.42,-3.0),(16.62,-2.0),(16.80,-1.5),(16.85,-2.9),(16.98,-3.0),(17.03,-2.2)],
    [(13.98,-0.9),(14.29,-1.1),(14.31,-2.5),(14.34,-5.5),(14.39,-7.5),(14.44,-8.3),(14.54,-7.6),(14.80,-6.3),(15.30,-5.3),(15.81,-4.7),(16.12,-4.4),(16.17,-4.0),(16.22,-4.4),(16.29,-5.2),(16.32,-6.0),(16.36,-3.6),(16.52,-2.7),(16.70,-1.6),(16.83,-1.4),(16.88,-2.9),(17.03,-2.9)],
    [(13.98,-1.0),(14.33,-1.1),(14.35,-3.0),(14.38,-6.0),(14.44,-7.4),(14.54,-6.9),(14.80,-5.7),(15.30,-4.6),(15.81,-3.9),(16.22,-3.4),(16.35,-3.6),(16.42,-6.2),(16.47,-3.6),(16.60,-1.8),(16.75,-1.3),(16.85,-1.5),(16.88,-2.8),(17.03,-2.9)],
]
J_NUC = [
    [(14.15,-27),(14.23,-23.4),(14.33,-18.1),(14.41,-13.3),(14.48,-14.7),(14.56,-18.6),(14.63,-22.9),(14.68,-27)],
    [(14.12,-27),(14.18,-22.5),(14.27,-17.7),(14.38,-13.1),(14.46,-13.8),(14.56,-17.7),(14.63,-22.7),(14.68,-27)],
    [(14.14,-26),(14.19,-23.5),(14.29,-17.3),(14.39,-12.7),(14.49,-16.6),(14.62,-23.5),(14.66,-26)],
    [(14.13,-26),(14.19,-23.5),(14.26,-17.5),(14.38,-11.0),(14.47,-13.5),(14.56,-18.5),(14.66,-24.5),(14.70,-26)],
    [(14.10,-26),(14.16,-23.5),(14.25,-16.5),(14.38,-10.3),(14.47,-12.8),(14.56,-18.0),(14.66,-24.5),(14.70,-26)],
    [(14.14,-26),(14.19,-23.5),(14.29,-17.3),(14.39,-10.6),(14.49,-14.5),(14.58,-19.5),(14.67,-24.5),(14.70,-26)],
    [(14.20,-26),(14.24,-23.5),(14.31,-17.3),(14.40,-11.3),(14.49,-14.8),(14.59,-20.0),(14.64,-23.0),(14.68,-26)],
    [(14.22,-26),(14.26,-23.5),(14.33,-17.0),(14.41,-11.2),(14.50,-14.5),(14.58,-19.5),(14.66,-25.0),(14.68,-26)],
    [(14.25,-26),(14.29,-22.0),(14.35,-16.0),(14.42,-11.5),(14.50,-14.5),(14.58,-20.0),(14.66,-25.0),(14.68,-26)],
    [(14.27,-26),(14.31,-22.0),(14.36,-16.5),(14.43,-12.0),(14.50,-14.5),(14.58,-20.0),(14.66,-25.0),(14.68,-26)],
    [(14.28,-26),(14.31,-23.0),(14.37,-17.0),(14.43,-12.6),(14.51,-15.5),(14.59,-20.5),(14.67,-25.5),(14.69,-26)],
    [(14.29,-26),(14.32,-23.0),(14.38,-17.5),(14.44,-13.2),(14.52,-16.0),(14.60,-21.0),(14.68,-26)],
    [(14.29,-26),(14.33,-23.0),(14.38,-18.0),(14.44,-13.8),(14.52,-16.5),(14.61,-21.5),(14.69,-26)],
    [(14.30,-26),(14.34,-23.0),(14.39,-18.5),(14.45,-14.4),(14.53,-17.0),(14.62,-22.0),(14.70,-26)],
]

X_TICKS = [1e14, 1e15, 1e16, 1e17]
X_TICKTEXT = ["10<sup>14</sup>", "10<sup>15</sup>", "10<sup>16</sup>", "10<sup>17</sup>"]
V_TICKS = [0, 2e6, 4e6, 6e6]
V_TICKTEXT = ["0", "2×10<sup>6</sup>", "4×10<sup>6</sup>", "6×10<sup>6</sup>"]
RHO_TICKS = [-10, -15, -20, -25]
VD_TICKS = [0, 1e6, 2e6, 3e6, 4e6]
VD_TICKTEXT = ["0", "10<sup>6</sup>", "2×10<sup>6</sup>", "3×10<sup>6</sup>", "4×10<sup>6</sup>"]
A_TICKS = [0, -5, -10]
J_TICKS = [-10, -15, -20]

# ---------------------------------------------------------------- layout geometry
W, H = 1384, 1650
COLS_PX = [(116, 334), (437, 654), (757, 973), (1076, 1294)]
TOP, BOT = 6, 1582
NROW = 14
ROWH = (BOT - TOP) / NROW
FONT = "DejaVu Serif"
XRANGE = [13.866, 17.18]
YRANGES = [[-0.4e6, 7.45e6], [-26.6, -8.7], [-0.47e6, 4.47e6], [-11.9, 1.17]]
JRANGE = [-24.03, -7.88]

MINOR_X = [k * 10.0 ** n for n in range(13, 17) for k in range(2, 10)]


def px_x(p):
    return min(1.0, max(0.0, p / W))


def px_y(p):
    return min(1.0, max(0.0, 1 - p / H))


def split(pairs, scale=1.0):
    xs, ys = [], []
    for lx, v in pairs:
        xs.append(10.0 ** lx)
        ys.append(v * scale)
    return xs, ys


fig = go.Figure()
layout = {}
SOLID = dict(color="black", width=1.1)
DASHED = dict(color="black", width=1.1, dash="4px,4px")

for r in range(NROW):
    y1 = px_y(TOP + r * ROWH)
    y0 = px_y(TOP + (r + 1) * ROWH)
    for c in range(4):
        n = r * 4 + c + 1
        xa, ya = f"x{n}", f"y{n}"
        xk, yk = f"xaxis{n}", f"yaxis{n}"
        last = (r == NROW - 1)
        layout[xk] = dict(
            type="log", range=XRANGE, domain=[px_x(COLS_PX[c][0]), px_x(COLS_PX[c][1])],
            anchor=ya, tickvals=X_TICKS, ticktext=X_TICKTEXT, showticklabels=last,
            ticks="inside", ticklen=8, tickwidth=1, tickcolor="black",
            minor=dict(tickvals=MINOR_X, ticks="inside", ticklen=4, tickwidth=1, tickcolor="black"),
            showline=True, linewidth=1.4, linecolor="black", mirror="allticks",
            showgrid=False, zeroline=False,
            tickfont=dict(family=FONT, size=16, color="black"),
        )
        ydict = dict(
            range=YRANGES[c], domain=[y0, y1], anchor=xa,
            ticks="inside", ticklen=8, tickwidth=1, tickcolor="black",
            showline=True, linewidth=1.4, linecolor="black",
            mirror="allticks" if c < 3 else True,
            showgrid=False, zeroline=False,
            tickfont=dict(family=FONT, size=16, color="black"),
        )
        if c == 0:
            ydict.update(tickvals=V_TICKS, ticktext=V_TICKTEXT,
                         minor=dict(dtick=5e5, tick0=0, ticks="inside", ticklen=4, tickcolor="black"))
            xs, ys = split(V_GAS[r], 1e6)
            fig.add_trace(go.Scatter(x=xs, y=ys, mode="lines", line=SOLID, xaxis=xa, yaxis=ya))
            xs, ys = split(V_DUST[r], 1e6)
            fig.add_trace(go.Scatter(x=xs, y=ys, mode="lines", line=DASHED, xaxis=xa, yaxis=ya))
            fig.add_trace(go.Scatter(x=[10.0 ** DOT_LOGR[r]], y=[DOT_V[r] * 1e6], mode="markers",
                                     marker=dict(color="black", size=8), xaxis=xa, yaxis=ya))
        elif c == 1:
            ydict.update(tickvals=RHO_TICKS,
                         minor=dict(dtick=1, tick0=0, ticks="inside", ticklen=4, tickcolor="black"))
            xs, ys = split(RHO_GAS[r])
            fig.add_trace(go.Scatter(x=xs, y=ys, mode="lines", line=SOLID, xaxis=xa, yaxis=ya))
            xs, ys = split(RHO_DUST[r])
            fig.add_trace(go.Scatter(x=xs, y=ys, mode="lines", line=DASHED, xaxis=xa, yaxis=ya))
        elif c == 2:
            ydict.update(tickvals=VD_TICKS, ticktext=VD_TICKTEXT,
                         minor=dict(dtick=2e5, tick0=0, ticks="inside", ticklen=4, tickcolor="black"))
            xs, ys = split(VD_MEAN[r], 1e6)
            fig.add_trace(go.Scatter(x=xs, y=ys, mode="lines", line=DASHED, xaxis=xa, yaxis=ya))
            xs, ys = split(VD[r], 1e6)
            fig.add_trace(go.Scatter(x=xs, y=ys, mode="lines", line=SOLID, xaxis=xa, yaxis=ya))
        else:
            ydict.update(tickvals=A_TICKS,
                         minor=dict(dtick=1, tick0=0, ticks="inside", ticklen=4, tickcolor="black"))
            xs, ys = split(A_DUST[r])
            fig.add_trace(go.Scatter(x=xs, y=ys, mode="lines", line=SOLID, xaxis=xa, yaxis=ya))
            jn = 56 + r + 1
            layout[f"yaxis{jn}"] = dict(
                range=JRANGE, overlaying=ya, anchor=xa, side="right",
                tickvals=J_TICKS, ticks="inside", ticklen=8, tickwidth=1, tickcolor="black",
                minor=dict(dtick=1, tick0=0, ticks="inside", ticklen=4, tickcolor="black"),
                showline=False, showgrid=False, zeroline=False,
                tickfont=dict(family=FONT, size=16, color="black"),
            )
            xs, ys = split(J_NUC[r])
            fig.add_trace(go.Scatter(x=xs, y=ys, mode="lines", line=DASHED, xaxis=xa, yaxis=f"y{jn}"))
        layout[yk] = ydict

ann = []
for c in range(4):
    cx = px_x((COLS_PX[c][0] + COLS_PX[c][1]) / 2)
    ann.append(dict(text="r [cm]", x=cx, y=px_y(1627), xref="paper", yref="paper",
                    xanchor="center", yanchor="middle",
                    showarrow=False, font=dict(family=FONT, size=19, color="black")))
titles = [
    ("v<sub>g,d</sub> [cm/s]", 23, 838),
    ("log(ρ<sub>g,d</sub>) [g/cm<sup>3</sup>]", 370, 800),
    ("v<sub>D</sub>, v\u0304<sub>D</sub> [cm/s]", 686, 756),
    ("log(a<sub>d</sub>) [cm]", 1018, 788),
    ("log(J<sub>*</sub>) [s<sup>-1</sup>]", 1366, 837),
]
for t, px, py in titles:
    ann.append(dict(text=t, x=px_x(px), y=px_y(py), xref="paper", yref="paper", textangle=-90,
                    xanchor="center", yanchor="middle",
                    showarrow=False, font=dict(family=FONT, size=17, color="black")))

fig.update_layout(
    width=W, height=H, margin=dict(l=0, r=0, t=0, b=0),
    paper_bgcolor="white", plot_bgcolor="white", showlegend=False,
    annotations=ann, **layout,
)
fig.write_html("out.html")
